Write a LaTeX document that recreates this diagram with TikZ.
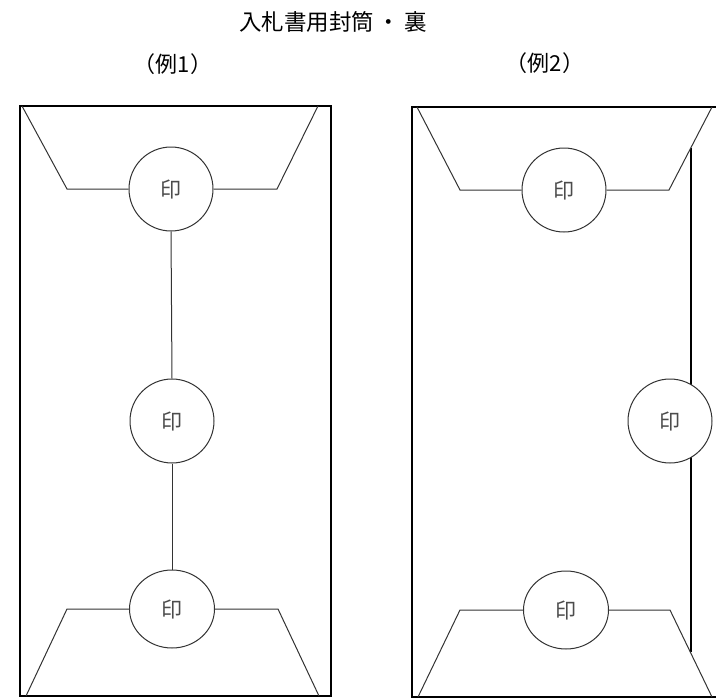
\documentclass[tikz,border=0pt]{standalone}
\usepackage{fontspec}
\newfontfamily\jpfont{Noto Sans CJK JP}
\usetikzlibrary{shapes.geometric}
\tikzset{
	seal/.style={
			draw=black!80, line width=1pt, fill=white,
			circle, minimum size=84pt, inner sep=0pt,
			font=\jpfont\fontsize{21}{21}\selectfont, text=black!70
		},
	sealflat/.style={seal, ellipse, minimum width=85pt, minimum height=78pt},
	envline/.style={draw=black, line width=1.3pt},
	flap/.style={draw=black!80, line width=1pt},
	caption/.style={font=\jpfont\fontsize{22}{22}\selectfont}
}

\begin{document}
\begin{tikzpicture}[x=1pt, y=-1pt]
	\useasboundingbox (0,0) rectangle (716,699);

	% Titles
	\node[font=\jpfont\fontsize{22.5}{22.5}\selectfont] (title) at (333,22)
	{入札書用封筒\hspace{4pt}・\hspace{4pt}裏};
	\node[caption] (cap1) at (173,64) {（例1）};
	\node[caption] (cap2) at (545,63) {（例2）};

	% Example 1: envelope outline
	\draw[envline] (20,106) rectangle (331,696);

	% Example 1: seals
	\node[seal] (s11) at (171,189) {印};
	\node[seal] (s12) at (172,421) {印};
	\node[sealflat] (s13) at (172,609) {印};

	% Example 1: top flap
	\coordinate (t1a) at (22,106);
	\coordinate (t1b) at (67,189);
	\coordinate (t1c) at (277,189);
	\coordinate (t1d) at (318,106);
	\draw[flap] (t1a) -- (t1b) -- (s11.west);
	\draw[flap] (s11.east) -- (t1c) -- (t1d);

	% Example 1: bottom flap
	\coordinate (b1a) at (26,696);
	\coordinate (b1b) at (67,609);
	\coordinate (b1c) at (278,609);
	\coordinate (b1d) at (319,696);
	\draw[flap] (b1a) -- (b1b) -- (s13.west);
	\draw[flap] (s13.east) -- (b1c) -- (b1d);

	% Example 1: seam between the seals
	\draw[flap] (s11.south) -- (s12.north);
	\draw[flap] (s12.south) -- (s13.north);

	% Example 2: envelope outline (runs off to the right)
	\draw[envline] (716,107) -- (412,107) -- (412,697) -- (716,697);

	% Example 2: side fold
	\coordinate (fd1) at (691,148);
	\coordinate (fd2) at (691,652);
	\draw[draw=black, line width=1.1pt] (fd1) -- (fd2);

	% Example 2: seals
	\node[seal] (s21) at (564,190) {印};
	\node[seal] (s22) at (670,421) {印};
	\node[sealflat] (s23) at (566,610) {印};

	% Example 2: top flap
	\coordinate (t2a) at (417,107);
	\coordinate (t2b) at (460,190);
	\coordinate (t2c) at (669,190);
	\coordinate (t2d) at (712,107);
	\draw[flap] (t2a) -- (t2b) -- (s21.west);
	\draw[flap] (s21.east) -- (t2c) -- (t2d);

	% Example 2: bottom flap
	\coordinate (b2a) at (418,697);
	\coordinate (b2b) at (460,610);
	\coordinate (b2c) at (670,610);
	\coordinate (b2d) at (712,697);
	\draw[flap] (b2a) -- (b2b) -- (s23.west);
	\draw[flap] (s23.east) -- (b2c) -- (b2d);
\end{tikzpicture}
\end{document}
